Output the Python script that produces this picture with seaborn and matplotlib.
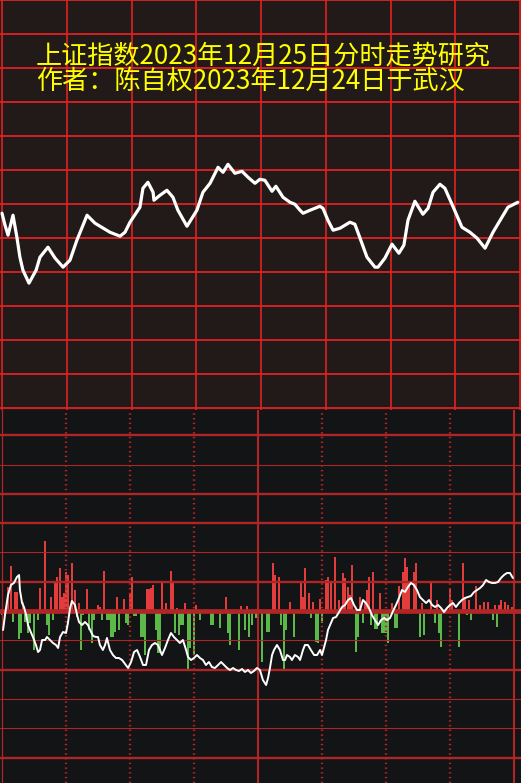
import numpy as np
import pandas as pd
import matplotlib
matplotlib.use("Agg")
import matplotlib.pyplot as plt
import seaborn as sns

sns.set_theme(style="dark")
plt.rcParams["font.family"] = ["Noto Sans CJK SC", "DejaVu Sans"]

title_1 = "上证指数2023年12月25日分时走势研究"
title_2 = "作者：陈自权2023年12月24日于武汉"

# 上图：走势曲线（分钟，偏离值）
trend_min = [0, 1.4, 2.8, 5.1, 6.9, 8.3, 9.7, 12.5, 15.8, 17.6, 21.3, 24.6, 28.3, 31.5, 34.7,
             39.4, 43.1, 50.0, 54.7, 57.0, 59.3, 63.9, 65.3, 67.6, 70.0, 70.4, 73.2, 76.4, 79.2,
             81.5, 85.7, 90.3, 93.1, 96.4, 100.1, 102.4, 104.7, 107.9, 111.2, 114.0, 117.2, 119.5,
             121.8, 125.1, 126.9, 130.2, 133.4, 135.7, 138.1, 139.5, 142.7, 147.3, 148.7, 151.0,
             153.4, 156.6, 161.2, 163.5, 165.9, 169.1, 172.8, 174.2, 177.4, 180.7, 183.9, 186.2,
             188.1, 191.3, 195.0, 197.4, 199.7, 202.9, 205.2, 208.9, 213.1, 216.8, 220.1, 223.8,
             227.5, 234.4, 239.0]
trend_val = [-9, -21, -31, -11, -33, -53, -66, -79, -66, -53, -43, -54, -63, -56, -36,
             -11, -19, -28, -32, -28, -18, -3, 16, 22, 12, 4, 9, 14, 7,
             -6, -22, -6, 12, 21, 37, 32, 40, 31, 33, 27, 21, 25,
             24, 13, 18, 7, 2, 0, -6, -9, -6, -2, -4, -16,
             -26, -24, -18, -20, -34, -53, -63, -63, -54, -40, -49, -41,
             -16, 3, -10, -4, 12, 20, 16, -2, -23, -28, -34, -44,
             -28, -3, 2]

# 下图：红绿柱（分钟，数值）
bar_min = [0, 2, 3, 4, 5, 6, 7, 8, 9, 10, 11, 12, 13, 15, 17, 18, 20, 21, 22, 23, 24, 25, 26, 27,
           28, 29, 30, 31, 33, 34, 35, 36, 37, 38, 40, 41, 42, 43, 45, 46, 47, 48, 49, 50, 51, 52,
           53, 54, 55, 57, 58, 59, 60, 61, 62, 63, 65, 66, 67, 68, 69, 70, 71, 72, 73, 74, 75, 76,
           77, 79, 80, 81, 82, 83, 84, 85, 86, 87, 88, 90, 91, 93, 98, 99, 102, 103, 105, 106, 107,
           108, 111, 112, 114, 115, 116, 117, 119, 120,
           122, 124, 125, 127, 128, 130, 131, 132, 133, 135, 137, 140, 141, 142, 143, 144, 145, 146,
           147, 148, 149, 150, 152, 153, 154, 156, 157, 158, 160, 161, 162, 163, 164, 166, 167, 168,
           169, 170, 171, 172, 173, 174, 175, 176, 177, 178, 179, 180, 181, 183, 184, 185, 186, 188,
           189, 190, 191, 193, 194, 196, 197, 198, 200, 201, 203, 204, 205, 206, 210, 211, 214, 216,
           217, 218, 219, 220, 222, 224, 226, 228, 230, 231, 232, 233, 234, 236, 237, 239, 240]
bar_val = [-4, -3, 24, 45, -11, 19, 19, -28, -22, 9, -11, -22, -12, -39, -9, 23, 70, -14, -24, 14, -9, 28, 34, 43,
           14, 18, 39, 36, 48, 21, -6, 8, -39, -4, 22, -19, -32, -9, 6, 4, -9, 40, -9, -9, -26, -26,
           -21, 14, -19, 12, -12, -14, 18, 34, -5, -5, -26, -26, -44, 22, 22, 23, 26, -19, -42, -42, 29, -3,
           8, 40, 29, -22, 3, -24, -14, -14, 8, -58, -37, -44, 6, -9, -14, -14, -17, -3, 14, -22, -34,
           -3, -39, 5, -19, 5, -26, -14, -7, 11,
           -51, -21, -21, 48, 36, 34, -14, -59, -19, 9, -26, 28, 14, 43, -3, 18, -7, 9,
           -31, -32, 12, -12, 31, 34, 29, 54, -3, 11, 38, 33, 24, 16, 46, -41, -26, 14,
           -12, 8, 21, 34, -14, 39, -18, -18, 18, -22, -22, -22, -32, 8, -17, -17, 25, 39,
           53, 44, 28, 39, 48, -26, 8, -24, -3, 28, -12, 11, -22, -36, 22, 11, -36, 48,
           13, -4, 11, -9, 25, 6, 9, 9, -9, 6, -16, 6, 11, 9, 6, 4, -12]

# 下图：白线
avg_min = [0.5, 1.4, 2.8, 4.2, 5.6, 7.0, 8.0, 8.4, 9.4, 10.3, 11.3, 12.2, 13.1, 14.5, 15.9, 16.9, 17.8,
           18.8, 20.2, 21.1, 22.5, 23.9, 25.3, 26.3, 27.2, 28.6, 30.0, 30.9, 31.9, 32.8, 34.2, 35.2,
           36.1, 37.5, 38.9, 40.3, 41.3, 42.7, 44.1, 45.0, 45.9, 47.3, 48.3, 49.2, 50.6, 52.0, 53.4,
           54.8, 56.3, 57.7, 59.1, 60.5, 61.9, 63.3, 64.7, 66.1, 67.5, 68.9, 70.3, 71.7, 73.1, 75.0,
           76.4, 77.8, 79.2, 80.6, 82.0, 83.4, 84.8, 86.3, 87.2, 88.6, 90.0, 91.4, 92.8, 94.2, 95.6,
           97.0, 98.4, 99.8, 101.3, 102.7, 104.1, 105.5, 106.9, 108.3, 109.7, 111.1, 112.5, 113.9,
           115.3, 116.7, 118.1, 119.5, 120.9, 122.3, 123.8, 124.7, 125.6, 126.6, 127.5, 128.9, 130.3,
           131.7, 132.7, 133.6, 135.0, 135.9, 137.3, 138.8, 139.7, 141.1, 142.0, 143.4, 144.8, 146.3,
           147.7, 149.1, 150.0, 150.9, 151.9, 152.8, 153.8, 155.2, 156.6, 158.0, 159.4, 160.8, 162.2,
           163.6, 165.0, 166.4, 167.8, 169.2, 170.6, 172.0, 173.4, 174.8, 176.3, 177.7, 179.1, 180.5,
           181.9, 183.3, 184.7, 186.1, 187.5, 188.9, 190.3, 191.7, 193.1, 194.5, 195.9, 197.3, 198.8,
           200.2, 201.6, 203.0, 204.4, 205.8, 207.2, 208.6, 210.0, 211.4, 212.8, 214.2, 215.6, 217.0,
           218.4, 219.8, 221.3, 222.7, 224.1, 225.5, 226.9, 228.3, 229.7, 231.1, 232.5, 233.9, 235.3,
           236.7, 238.1, 239.5]
avg_val = [-19, -4, 16, 26, 28, 34, 36, 21, 8, 4, -4, -14, -19, -26, -34, -41, -39,
           -29, -29, -26, -29, -32, -34, -37, -26, -21, -22, -12, 3, 10, 6, -4,
           -11, -14, -11, -14, -19, -25, -26, -26, -34, -39, -34, -27, -39, -44, -47,
           -47, -49, -53, -57, -51, -41, -39, -46, -54, -54, -39, -34, -32, -34, -44,
           -37, -29, -22, -26, -29, -32, -29, -39, -46, -49, -47, -44, -47, -49, -54,
           -51, -56, -57, -54, -51, -54, -57, -59, -57, -59, -60, -58, -61,
           -59, -62, -60, -57, -59, -69, -74, -67, -57, -44, -39, -34, -39,
           -49, -49, -44, -46, -49, -44, -46, -49, -39, -34, -34, -39, -44,
           -44, -39, -44, -37, -29, -19, -14, -7, -6, -1, 4, 6, 11,
           13, 6, 1, 1, 11, 8, 3, -4, -9, -14, -9, -7, -9,
           -7, 0, 6, 13, 21, 19, 24, 28, 26, 21, 14, 11, 8,
           11, 6, 4, 6, 3, -1, 3, 6, 8, 4, 8, 11, 13,
           14, 15, 19, 21, 23, 26, 31, 29, 28, 28, 29, 33, 36,
           38, 38, 33]

TOP_BG = "#211a18"
BOT_BG = "#131416"
GRID_RED = "#e02222"
LINE_RED = "#b02626"
UP_RED = "#e23c3c"
DOWN_GREEN = "#5db84a"

fig = plt.figure(figsize=(5.21, 7.83), dpi=100)
fig.patch.set_facecolor(BOT_BG)

# 下图
ax2 = fig.add_axes([0, 0, 1, (783 - 409) / 783])
ax2.set_facecolor(BOT_BG)
bars = pd.DataFrame({"min": bar_min, "val": bar_val})
bars["side"] = np.where(bars["val"] > 0, "up", "down")
sns.barplot(data=bars, x="min", y="val", hue="side", native_scale=True, dodge=False,
            palette={"up": UP_RED, "down": DOWN_GREEN}, saturation=1, width=0.95,
            linewidth=0, legend=False, ax=ax2, zorder=2)
step = 29.3
thick = {6: 1.7, 5: 0.8, 4: 1.7, 3: 1.7, 2: 0.8, 1: 1.7, 0: 3.4,
         -1: 0.8, -2: 1.7, -3: 0.8, -4: 0.8, -5: 1.7}
for k, lw in thick.items():
    ax2.axhline(k * step, color=LINE_RED, lw=lw, zorder=3)
for m in [30, 60, 90, 150, 180, 210]:
    ax2.axvline(m, color=LINE_RED, lw=1.7, linestyle=(0, (0.6, 1.4)), zorder=3)
ax2.axvline(0, color=LINE_RED, lw=0.9, zorder=3)
ax2.axvline(120, color=LINE_RED, lw=1.5, zorder=3)
ax2.axvline(240, color=LINE_RED, lw=1.5, zorder=3)
sns.lineplot(x=avg_min, y=avg_val, ax=ax2, color="white", linewidth=1.4,
             sort=False, estimator=None, zorder=4)
ax2.set_xlim(-2 / 2.1333, 519 / 2.1333)
ax2.set_ylim(-172, 202)

# 上图
ax1 = fig.add_axes([0, 1 - 410 / 783, 1, 410 / 783])
ax1.set_facecolor(TOP_BG)
for m in range(0, 241, 30):
    ax1.axvline(m, color=GRID_RED, lw=1.2, zorder=1)
for v in range(-204, 205, 34):
    ax1.axhline(v, color=GRID_RED, lw=1.3, zorder=1)
sns.lineplot(x=trend_min, y=trend_val, ax=ax1, color="white", linewidth=2.3,
             sort=False, estimator=None, zorder=3, solid_joinstyle="round")
ax1.set_xlim(-2 * 240 / 518, 240 + 240 / 518)
ax1.set_ylim(-206, 204.5)

ax1.text(36 / 521, 1 - 56 / 410, title_1, transform=ax1.transAxes, color="#ffff00",
         fontsize=18.8, va="center", ha="left", zorder=5)
ax1.text(36 / 521, 1 - 81 / 410, title_2, transform=ax1.transAxes, color="#ffff00",
         fontsize=18.8, va="center", ha="left", zorder=5)

for ax in (ax1, ax2):
    ax.set_xticks([])
    ax.set_yticks([])
    ax.set_xlabel("")
    ax.set_ylabel("")
    ax.grid(False)
    for s in ax.spines.values():
        s.set_visible(False)

fig.savefig("out.png", dpi=100, facecolor=fig.get_facecolor())
